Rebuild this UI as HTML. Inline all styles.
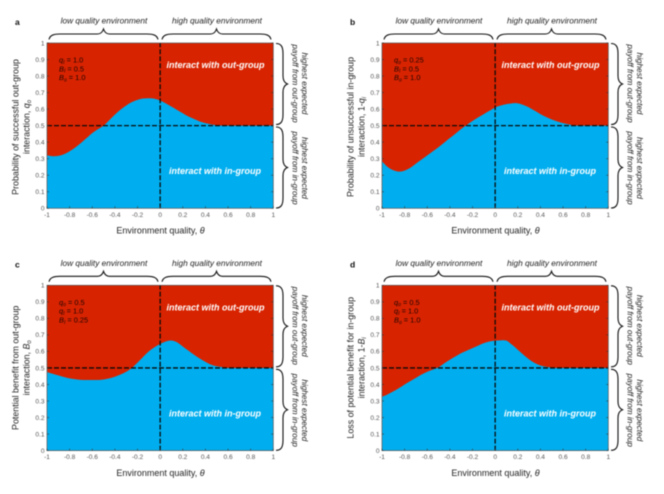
<!DOCTYPE html>
<html>
<head>
<meta charset="utf-8">
<style>
html,body{margin:0;padding:0;background:#fff;width:664px;height:494px;overflow:hidden}
svg{display:block;filter:blur(0.4px)}
text{font-family:"Liberation Sans",sans-serif}
</style>
</head>
<body>
<svg id="chart" width="664" height="494" viewBox="0 0 664 494" xmlns="http://www.w3.org/2000/svg"></svg>
<script>
const thetaValues = [-1,-0.95,-0.9,-0.85,-0.8,-0.75,-0.7,-0.65,-0.6,-0.55,-0.5,-0.45,-0.4,-0.35,-0.3,-0.25,-0.2,-0.15,-0.1,-0.05,0,0.05,0.1,0.15,0.2,0.25,0.3,0.35,0.4,0.45,0.5,0.55,0.6,0.65,0.7,0.75,0.8,0.85,0.9,0.95,1];
const boundaryA = [0.32,0.315,0.317,0.327,0.345,0.368,0.395,0.425,0.455,0.478,0.5,0.533,0.567,0.597,0.622,0.642,0.656,0.664,0.666,0.663,0.652,0.635,0.615,0.595,0.575,0.555,0.54,0.525,0.515,0.508,0.503,0.5,0.5,0.5,0.5,0.5,0.5,0.5,0.5,0.5,0.5];
const boundaryB = [0.285,0.25,0.23,0.222,0.228,0.245,0.27,0.295,0.32,0.345,0.37,0.397,0.425,0.452,0.48,0.505,0.528,0.55,0.57,0.59,0.61,0.622,0.63,0.635,0.635,0.625,0.61,0.59,0.57,0.552,0.537,0.525,0.515,0.508,0.502,0.5,0.5,0.5,0.5,0.5,0.5];
const boundaryC = [0.475,0.465,0.455,0.445,0.437,0.432,0.428,0.427,0.427,0.427,0.43,0.437,0.447,0.46,0.477,0.5,0.532,0.567,0.6,0.625,0.645,0.66,0.666,0.655,0.63,0.605,0.58,0.557,0.537,0.52,0.51,0.505,0.5,0.5,0.5,0.5,0.5,0.5,0.5,0.5,0.5];
const boundaryD = [0.325,0.34,0.358,0.378,0.4,0.42,0.44,0.46,0.477,0.49,0.505,0.528,0.55,0.57,0.59,0.605,0.62,0.635,0.65,0.66,0.665,0.667,0.665,0.64,0.61,0.58,0.552,0.53,0.515,0.507,0.502,0.5,0.5,0.5,0.5,0.5,0.5,0.5,0.5,0.5,0.5];
const xTickValues = [-1,-0.8,-0.6,-0.4,-0.2,0,0.2,0.4,0.6,0.8,1];
const yTickValues = [0,0.1,0.2,0.3,0.4,0.5,0.6,0.7,0.8,0.9,1];
const panelLetters = ['a','b','c','d'];
const panelBoundaries = [boundaryA,boundaryB,boundaryC,boundaryD];
const yLabelFirst = ['Probability of successful out-group','Probability of unsuccessful in-group','Potential benefit from out-group','Loss of potential benefit for in-group'];
const yLabelSecond = [
  [['interaction, '],['q','i'],['o','s']],
  [['interaction, 1-'],['q','i'],['i','s']],
  [['interaction, '],['B','i'],['o','s']],
  [['interaction, 1-'],['B','i'],['i','s']]
];
const paramText = [
  [[['q','i'],['I','s'],[' = 1.0']],[['B','i'],['I','s'],[' = 0.5']],[['B','i'],['o','s'],[' = 1.0']]],
  [[['q','i'],['o','s'],[' = 0.25']],[['B','i'],['I','s'],[' = 0.5']],[['B','i'],['o','s'],[' = 1.0']]],
  [[['q','i'],['o','s'],[' = 0.5']],[['q','i'],['I','s'],[' = 1.0']],[['B','i'],['I','s'],[' = 0.25']]],
  [[['q','i'],['o','s'],[' = 0.5']],[['q','i'],['I','s'],[' = 1.0']],[['B','i'],['o','s'],[' = 1.0']]]
];

const NS = 'http://www.w3.org/2000/svg';
const root = document.getElementById('chart');
const plotW = 226.3, plotH = 165.3;
const originsX = [47,382,47,382];
const originsY = [43,43,285.3,285.3];

function mk(tag, parent, attrs){
  const el = document.createElementNS(NS, tag);
  for (const k in attrs) el.setAttribute(k, attrs[k]);
  parent.appendChild(el);
  return el;
}
function addRuns(textEl, runs){
  let lastSub = false;
  runs.forEach(function(r){
    const t = mk('tspan', textEl, {});
    t.textContent = r[0];
    if (r[1] === 'i') t.setAttribute('font-style','italic');
    if (r[1] === 's') {
      t.setAttribute('font-style','italic');
      t.setAttribute('font-size','0.68em');
      t.setAttribute('dy','1.4');
    } else if (lastSub) {
      t.setAttribute('dy','-1.4');
    }
    lastSub = r[1] === 's';
  });
}
function smoothPath(pts){
  let d = '';
  for (let k = 0; k < pts.length - 1; k++) {
    const p0 = pts[Math.max(k-1,0)], p1 = pts[k], p2 = pts[k+1], p3 = pts[Math.min(k+2,pts.length-1)];
    const c1x = p1[0] + (p2[0]-p0[0])/6, c1y = p1[1] + (p2[1]-p0[1])/6;
    const c2x = p2[0] - (p3[0]-p1[0])/6, c2y = p2[1] - (p3[1]-p1[1])/6;
    d += 'C' + c1x.toFixed(2) + ' ' + c1y.toFixed(2) + ' ' + c2x.toFixed(2) + ' ' + c2y.toFixed(2) + ' ' + p2[0].toFixed(2) + ' ' + p2[1].toFixed(2);
  }
  return d;
}
function hBrace(x0, x1, y){
  const c = (x0+x1)/2;
  return 'M'+x0+' '+(y+6.5)+'C'+(x0+1)+' '+(y+2)+' '+(x0+5)+' '+(y+1)+' '+(x0+11)+' '+(y+1)+
    'L'+(c-6)+' '+(y+1)+'C'+(c-3)+' '+(y+1)+' '+(c-1)+' '+(y-1)+' '+c+' '+(y-4)+
    'C'+(c+1)+' '+(y-1)+' '+(c+3)+' '+(y+1)+' '+(c+6)+' '+(y+1)+
    'L'+(x1-11)+' '+(y+1)+'C'+(x1-5)+' '+(y+1)+' '+(x1-1)+' '+(y+2)+' '+x1+' '+(y+6.5);
}
function vBrace(x, y0, y1){
  const c = (y0+y1)/2;
  return 'M'+x+' '+y0+'C'+(x+5)+' '+y0+' '+(x+7)+' '+(y0+3)+' '+(x+7)+' '+(y0+10)+
    'L'+(x+7)+' '+(c-8)+'C'+(x+7)+' '+(c-3)+' '+(x+9)+' '+(c-1)+' '+(x+11.5)+' '+c+
    'C'+(x+9)+' '+(c+1)+' '+(x+7)+' '+(c+3)+' '+(x+7)+' '+(c+8)+
    'L'+(x+7)+' '+(y1-10)+'C'+(x+7)+' '+(y1-3)+' '+(x+5)+' '+y1+' '+x+' '+y1;
}

panelBoundaries.forEach(function(boundary, i){
  const ox = originsX[i], oy = originsY[i];
  const xScale = function(v){ return ox + (v+1)/2*plotW; };
  const yScale = function(v){ return oy + (1-v)*plotH; };
  const g = mk('g', root, {});
  
  

  const letter = mk('text', g, {x: ox-32, y: oy-18, 'font-size': 8.5, 'font-weight': 'bold', fill: '#111'});
  letter.textContent = panelLetters[i];
  
  

  const red = mk('rect', g, {x: ox, y: oy, width: plotW, height: plotH, fill: '#d82300'});
  
  

  const pts = thetaValues.map(function(t, k){ return [xScale(t), yScale(boundary[k])]; });
  let d = 'M' + xScale(thetaValues[0]) + ' ' + yScale(0) + 'L' + pts[0][0] + ' ' + pts[0][1];
  d += smoothPath(pts);
  d += 'L' + xScale(thetaValues[thetaValues.length-1]) + ' ' + yScale(0) + 'Z';
  const blue = mk('path', g, {d: d, fill: '#00aeef'});
  
  

  const hd = mk('line', g, {x1: xScale(-1), x2: xScale(1), y1: yScale(0.5), y2: yScale(0.5), stroke: '#0a0a0a', 'stroke-width': 1.3, 'stroke-dasharray': '5 2'});
  
  
  const vd = mk('line', g, {x1: xScale(0), x2: xScale(0), y1: yScale(0), y2: yScale(1), stroke: '#0a0a0a', 'stroke-width': 1.3, 'stroke-dasharray': '5 2'});
  
  

  const frame = mk('rect', g, {x: ox, y: oy, width: plotW, height: plotH, fill: 'none', stroke: '#555', 'stroke-width': 0.7});
  
  

  xTickValues.forEach(function(v){
    const t = mk('line', g, {x1: xScale(v), x2: xScale(v), y1: yScale(0), y2: yScale(0)-2, stroke: '#333', 'stroke-width': 0.6});
    
    
    const tl = mk('text', g, {x: xScale(v), y: yScale(0)+8.5, 'font-size': 6.6, fill: '#555', 'text-anchor': 'middle'});
    tl.textContent = String(v);
    
    
  });
  yTickValues.forEach(function(v){
    const t = mk('line', g, {x1: xScale(-1), x2: xScale(-1)+2, y1: yScale(v), y2: yScale(v), stroke: '#333', 'stroke-width': 0.6});
    
    
    const t2 = mk('line', g, {x1: xScale(1), x2: xScale(1)-2, y1: yScale(v), y2: yScale(v), stroke: '#333', 'stroke-width': 0.6});
    
    
    const tl = mk('text', g, {x: ox-2.5, y: yScale(v)+2.3, 'font-size': 6.6, fill: '#555', 'text-anchor': 'end'});
    tl.textContent = String(v);
    
    
  });

  const xTitle = mk('text', g, {x: ox+113.5, y: oy+190.5, 'font-size': 9, fill: '#222', 'text-anchor': 'middle'});
  addRuns(xTitle, [['Environment quality, '],['\u03b8','i']]);
  
  

  const yc = oy + (i < 2 ? 84 : 82.5);
  const yT1 = mk('text', g, {transform: 'translate(' + (ox-28.5) + ' ' + yc + ') rotate(-90)', 'font-size': 8.9, fill: '#222', 'text-anchor': 'middle'});
  yT1.textContent = yLabelFirst[i];
  
  
  const yT2 = mk('text', g, {transform: 'translate(' + (ox-17.5) + ' ' + yc + ') rotate(-90)', 'font-size': 8.9, fill: '#222', 'text-anchor': 'middle'});
  addRuns(yT2, yLabelSecond[i]);
  
  

  paramText[i].forEach(function(runs, k){
    const p = mk('text', g, {x: ox+12, y: oy + 19.5 + k*8.8, 'font-size': 7.4, fill: '#1a0500'});
    addRuns(p, runs);
    
    
  });

  const iOut = mk('text', g, {x: ox+168.5, y: oy+25, 'font-size': 9, 'font-weight': 'bold', 'font-style': 'italic', fill: '#fff', 'text-anchor': 'middle'});
  iOut.textContent = 'interact with out-group';
  
  
  const iIn = mk('text', g, {x: ox+168, y: oy+131, 'font-size': 9, 'font-weight': 'bold', 'font-style': 'italic', fill: '#fff', 'text-anchor': 'middle'});
  iIn.textContent = 'interact with in-group';
  
  

  const lowT = mk('text', g, {x: ox+57, y: oy-19.5, 'font-size': 8.3, 'font-style': 'italic', fill: '#222', 'text-anchor': 'middle'});
  lowT.textContent = 'low quality environment';
  
  
  const highT = mk('text', g, {x: ox+170, y: oy-19.5, 'font-size': 8.3, 'font-style': 'italic', fill: '#222', 'text-anchor': 'middle'});
  highT.textContent = 'high quality environment';
  
  

  const b1 = mk('path', g, {d: hBrace(ox+2, ox+111, oy-10), fill: 'none', stroke: '#111', 'stroke-width': 1.1});
  
  
  const b2 = mk('path', g, {d: hBrace(ox+115, ox+224, oy-10), fill: 'none', stroke: '#111', 'stroke-width': 1.1});
  
  
  const b3 = mk('path', g, {d: vBrace(ox+229, oy+0.5, oy+81.5), fill: 'none', stroke: '#111', 'stroke-width': 1.1});
  
  
  const b4 = mk('path', g, {d: vBrace(ox+229, oy+84, oy+165), fill: 'none', stroke: '#111', 'stroke-width': 1.1});
  
  

  const sideRows = [
    [oy+40.5, 'highest expected', 'payoff from out-group'],
    [oy+125, 'highest expected', 'payoff from in-group']
  ];
  sideRows.forEach(function(row){
    const s1 = mk('text', g, {transform: 'translate(' + (ox+255) + ' ' + row[0] + ') rotate(90)', 'font-size': 8.2, 'font-style': 'italic', fill: '#222', 'text-anchor': 'middle'});
    s1.textContent = row[1];
    
    
    const s2 = mk('text', g, {transform: 'translate(' + (ox+245.5) + ' ' + row[0] + ') rotate(90)', 'font-size': 8.2, 'font-style': 'italic', fill: '#222', 'text-anchor': 'middle'});
    s2.textContent = row[2];
    
    
  });
});
</script>
</body>
</html>
